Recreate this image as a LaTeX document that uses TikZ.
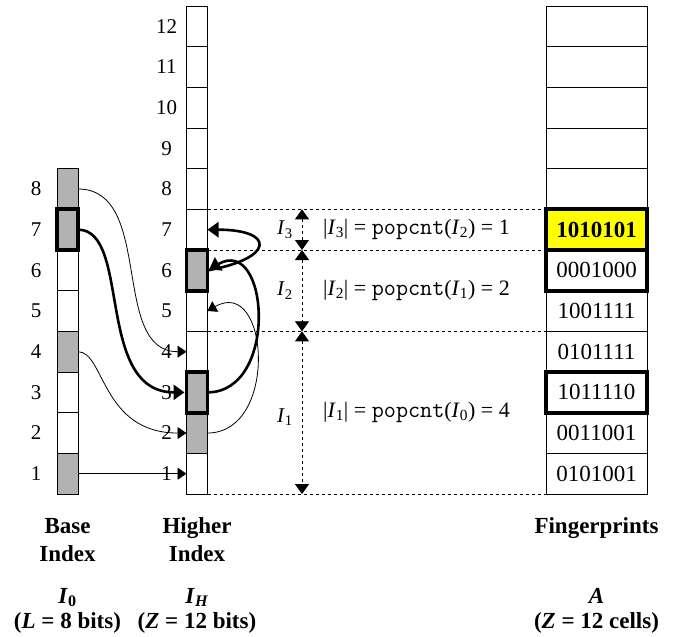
\documentclass[tikz,border=0pt]{standalone}
\usepackage{fontspec}
\setmainfont{Liberation Serif}
\usetikzlibrary{positioning,arrows.meta,calc}
\definecolor{cellGray}{HTML}{B2B2B2}
\definecolor{hitYellow}{HTML}{FFFF00}
\newcommand{\cellh}{40.67}
\newcommand{\Isub}[1]{\textit{I}\textsubscript{#1}}
\newcommand{\popcnt}{{\fontsize{23.5}{26}\selectfont\ttfamily popcnt}}

\begin{document}
\begin{tikzpicture}[
  x=1pt, y=1pt,
  font=\fontsize{21}{25}\selectfont,
  %% Cell styles
  bit/.style={
    draw=black, line width=0.9pt, fill=white,
    minimum width=21pt, minimum height=\cellh pt,
    inner sep=0pt, outer sep=0pt
  },
  fp/.style={bit, minimum width=101pt, font=\fontsize{23}{26}\selectfont},
  num/.style={inner sep=0pt},
  hl/.style={line width=3.8pt},
  rel/.style={anchor=west, inner sep=0pt, font=\fontsize{22}{26}\selectfont},
  capt/.style={align=center, anchor=base, inner sep=0pt,
               font=\fontsize{23}{28}\selectfont\bfseries},
  %% Arrow styles
  arr/.style={-{Triangle[length=9pt,width=12pt]}, line width=0.8pt},
  harr/.style={-{Triangle[length=11pt,width=15pt]}, line width=2.6pt},
  guide/.style={dash pattern=on 3pt off 3pt, line width=0.8pt},
  dimarr/.style={{Triangle[length=10pt,width=14pt]}-{Triangle[length=10pt,width=14pt]}, guide},
]
\useasboundingbox (0,0) rectangle (684,636);

%% ── Base index I_0 ─────────────────────────────────────────────────────────
\node[bit, fill=cellGray] (b1) at (67.5,162.3) {};
\foreach \i/\c [count=\j] in {2/white,3/white,4/cellGray,5/white,6/white,7/cellGray,8/cellGray}
  \node[bit, fill=\c, above=0pt of b\j] (b\i) {};
\foreach \i in {1,...,8}
  \node[num] (bn\i) at ([xshift=-21pt]b\i.west) {\i};

%% ── Higher index I_H ───────────────────────────────────────────────────────
\node[bit, right=108.5pt of b1] (h1) {};
\foreach \i/\c [count=\j] in {2/cellGray,3/cellGray,4/white,5/white,6/cellGray,7/white,
                              8/white,9/white,10/white,11/white,12/white}
  \node[bit, fill=\c, above=0pt of h\j] (h\i) {};
\foreach \i in {1,...,12}
  \node[num] (hn\i) at ([xshift=-20pt]h\i.west) {\i};

%% ── Fingerprints A ─────────────────────────────────────────────────────────
\node[fp, right=338.5pt of h1] (f1) {0101001};
\foreach \i/\v [count=\j] in {2/0011001,3/1011110,4/0101111,5/1001111,6/0001000}
  \node[fp, above=0pt of f\j] (f\i) {\v};
\node[fp, fill=hitYellow, above=0pt of f6] (f7) {\textbf{1010101}};
\foreach \i [count=\j from 7] in {8,...,12}
  \node[fp, above=0pt of f\j] (f\i) {};

%% ── Selected cells ─────────────────────────────────────────────────────────
\foreach \n in {b7,h3,h6,f3,f6,f7}
  \draw[hl] (\n.south west) rectangle (\n.north east);

%% ── Ranges ─────────────────────────────────────────────────────────────────
\draw[guide] (h7.north east) -- (f7.north west);
\draw[guide] (h7.south east) -- (f7.south west);
\draw[guide] (h4.north east) -- (f4.north west);
\draw[guide] (h1.south east) -- (f1.south west);

\coordinate[right=94.5pt of h1.east] (dimx);
\draw[dimarr] (dimx |- h7.north) -- (dimx |- h7.south);
\draw[dimarr] (dimx |- h6.north) -- (dimx |- h4.north);
\draw[dimarr] (dimx |- h4.north) -- (dimx |- h1.south);

\node[num, anchor=east] (r3) at ($(dimx |- h7.north)!0.5!(dimx |- h7.south) + (-9,0)$) {\Isub{3}};
\node[num, anchor=east] (r2) at ($(dimx |- h6.north)!0.5!(dimx |- h4.north) + (-9,0)$) {\Isub{2}};
\node[num, anchor=east] (r1) at ($(dimx |- h4.north)!0.5!(dimx |- h1.south) + (-9,-4)$) {\Isub{1}};

\node[rel] (p3) at ($(dimx |- h7.north)!0.5!(dimx |- h7.south) + (21,0)$)
  {|\Isub{3}| = \popcnt(\Isub{2}) = 1};
\node[rel] (p2) at ($(dimx |- h6.north)!0.5!(dimx |- h4.north) + (21,0)$)
  {|\Isub{2}| = \popcnt(\Isub{1}) = 2};
\node[rel] (p1) at ($(dimx |- h4.north)!0.5!(dimx |- h1.south) + (21,0)$)
  {|\Isub{1}| = \popcnt(\Isub{0}) = 4};

%% ── Base -> higher ─────────────────────────────────────────────────────────
\draw[arr] (b8.east) to[out=0,in=180] (h4.west);
\draw[arr] (b4.east) to[out=0,in=180,out looseness=0.5,in looseness=1.6] (h2.west);
\draw[arr] (b1.east) -- (h1.west);
\draw[harr, shorten >=2pt] (b7.east) to[out=0,in=180,out looseness=0.7,in looseness=1.2] (h3.west);

%% ── Higher -> higher ───────────────────────────────────────────────────────
\draw[harr, shorten >=2pt] (h3.east) to[out=0,in=30,looseness=1.5] (h6.east);
\draw[harr] (h6.east) to[out=10,in=0,looseness=4.3] (h7.east);
\draw[arr] (h2.east) to[out=0,in=30,looseness=1.5] (h5.east);

%% ── Captions ───────────────────────────────────────────────────────────────
\node[capt] (bcap) at ([yshift=-67pt]b1.south) {Base\\Index};
\node[capt] (hcap) at ([yshift=-67pt]h1.south) {Higher\\Index};
\node[capt] (fcap) at ([yshift=-39pt]f1.south) {Fingerprints};

\node[capt] (bsym) at ([yshift=-134pt]b1.south) {\Isub{\upshape 0}\\[-3pt](\textit{L} = 8 bits)};
\node[capt] (hsym) at ([yshift=-134pt]h1.south) {\Isub{\textit{H}}\\[-3pt](\textit{Z} = 12 bits)};
\node[capt] (fsym) at ([yshift=-134pt]f1.south) {\textit{A}\\[-3pt](\textit{Z} = 12 cells)};

\end{tikzpicture}
\end{document}
